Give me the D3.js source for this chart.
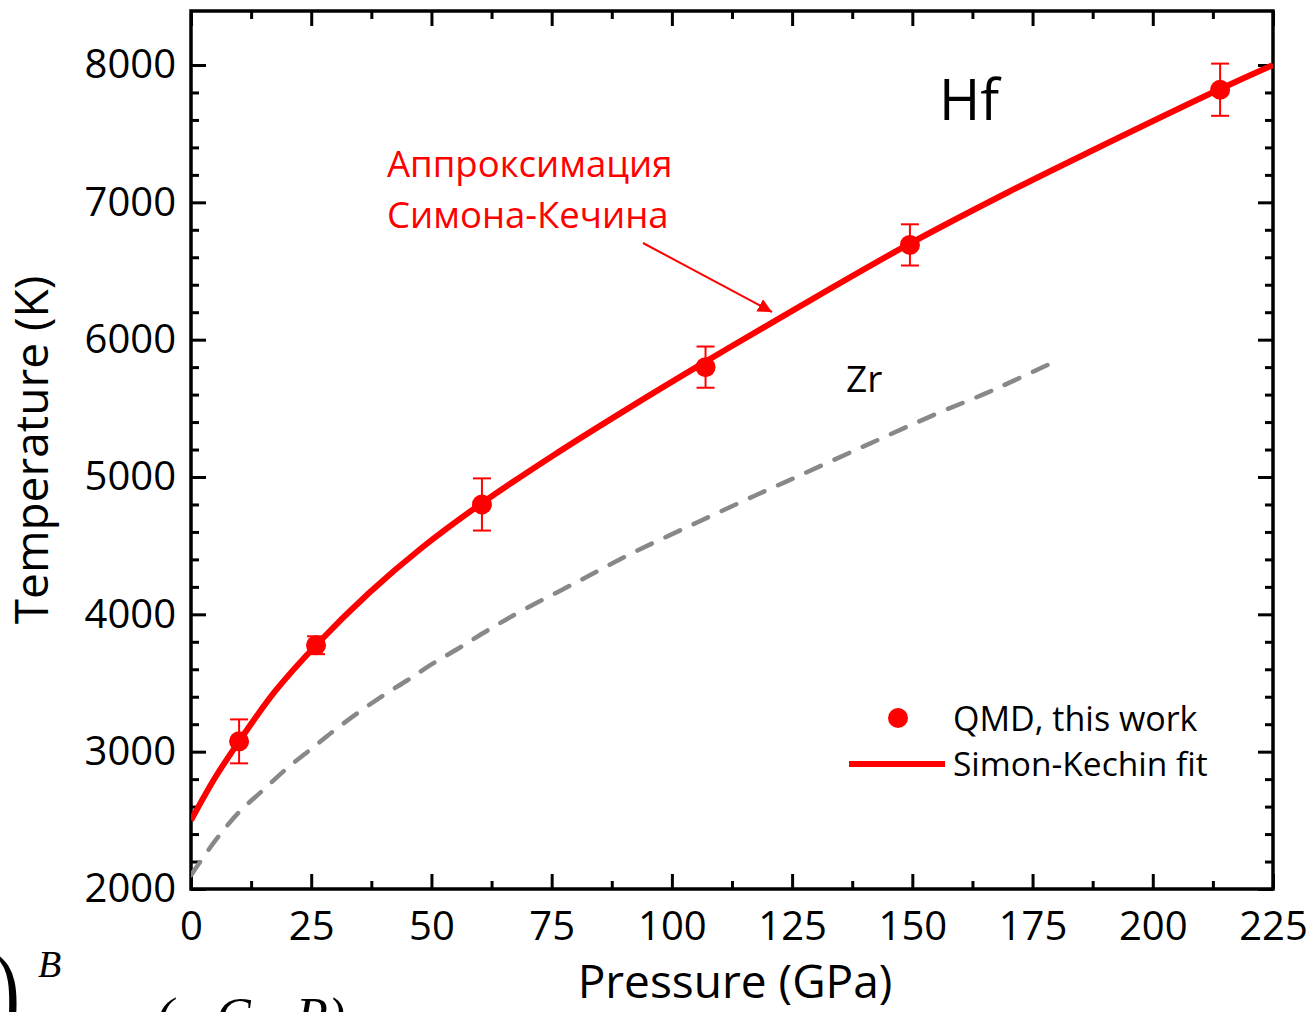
<!DOCTYPE html>
<html>
<head>
<meta charset="utf-8">
<script src="https://cdn.jsdelivr.net/npm/d3@7"></script>
<style>
  html, body { margin: 0; padding: 0; background: #fff; }
  svg { display: block; }
  text { font-family: "Open Sans", "Noto Sans", sans-serif; }
</style>
</head>
<body>
<svg id="chart" width="1314" height="1012"></svg>
<script>
// QMD melting points of Hf (GPa, K) with error bars
const qmdPressure = [10, 26, 60.5, 107, 149.5, 214];
const qmdTemp     = [3075, 3775, 4800, 5800, 6690, 7820];
const qmdError    = [160, 65, 190, 150, 150, 190];

// Simon-Kechin fit curve for Hf
const fitPressure = [0, 5, 10, 17.5, 26, 37, 48, 60.5, 75, 90, 107, 125, 149, 170, 187, 214, 225];
const fitTemp     = [2500, 2810, 3075, 3440, 3775, 4155, 4485, 4810, 5150, 5480, 5840, 6210, 6690, 7075, 7370, 7825, 8000];

// Zr melting curve (dashed)
const zrPressure = [0, 5, 10, 15, 20, 25, 30, 35, 40, 45, 50, 56, 62, 69, 80, 92, 105, 117, 124, 140, 155, 165, 171, 179];
const zrTemp     = [2100, 2350, 2560, 2720, 2880, 3020, 3160, 3290, 3410, 3520, 3635, 3760, 3890, 4030, 4230, 4450, 4665, 4860, 4970, 5225, 5460, 5605, 5700, 5830];

// Axis ticks
const xMajorTicks = [0, 25, 50, 75, 100, 125, 150, 175, 200, 225];
const xMinorTicks = [12.5, 37.5, 62.5, 87.5, 112.5, 137.5, 162.5, 187.5, 212.5];
const yMajorTicks = [2000, 3000, 4000, 5000, 6000, 7000, 8000];
const yMinorTicks = d3.range(2200, 8000, 200).filter(v => v % 1000 !== 0);

const svg = d3.select("#chart");
const plotLeft = 191, plotRight = 1273, plotTop = 11, plotBottom = 889;

const x = d3.scaleLinear().domain([0, 225]).range([plotLeft, plotRight]);
const y = d3.scaleLinear().domain([2000, 8000]).range([plotBottom, 65]);

const RED = "#ff0000";

const defs = svg.append("defs");
// clip region for curves
defs.append("clipPath").attr("id", "plotClip")
  .append("rect").attr("x", plotLeft).attr("y", plotTop)
  .attr("width", plotRight - plotLeft).attr("height", plotBottom - plotTop);

// ---- axes (ticks point inward on all four sides) ----
function styleAxis(g) {
  g.select(".domain").remove();
  g.selectAll(".tick line").attr("stroke", "#000").attr("stroke-width", 3);
  g.selectAll(".tick text").attr("fill", "#000")
    .style("font-family", '"Open Sans", sans-serif').style("font-size", "40px");
}
function addAxis(axis, tx, ty) {
  const g = svg.append("g").attr("transform", `translate(${tx},${ty})`).call(axis);
  styleAxis(g);
  return g;
}

addAxis(d3.axisBottom(x).tickValues(xMajorTicks).tickFormat(d3.format("d"))
  .tickSizeInner(-15).tickSizeOuter(0).tickPadding(23), 0, plotBottom);
addAxis(d3.axisBottom(x).tickValues(xMinorTicks).tickFormat("")
  .tickSizeInner(-8).tickSizeOuter(0), 0, plotBottom);
addAxis(d3.axisTop(x).tickValues(xMajorTicks).tickFormat("")
  .tickSizeInner(-15).tickSizeOuter(0), 0, plotTop);
addAxis(d3.axisTop(x).tickValues(xMinorTicks).tickFormat("")
  .tickSizeInner(-8).tickSizeOuter(0), 0, plotTop);
addAxis(d3.axisLeft(y).tickValues(yMajorTicks).tickFormat(d3.format("d"))
  .tickSizeInner(-15).tickSizeOuter(0).tickPadding(15), plotLeft, 0);
addAxis(d3.axisLeft(y).tickValues(yMinorTicks).tickFormat("")
  .tickSizeInner(-8).tickSizeOuter(0), plotLeft, 0);
addAxis(d3.axisRight(y).tickValues(yMajorTicks).tickFormat("")
  .tickSizeInner(-15).tickSizeOuter(0), plotRight, 0);
addAxis(d3.axisRight(y).tickValues(yMinorTicks).tickFormat("")
  .tickSizeInner(-8).tickSizeOuter(0), plotRight, 0);

// frame
svg.append("rect").attr("x", plotLeft).attr("y", plotTop)
  .attr("width", plotRight - plotLeft).attr("height", plotBottom - plotTop)
  .attr("fill", "none").attr("stroke", "#000").attr("stroke-width", 3.5);

// ---- curves ----
const line = d3.line().x(d => x(d[0])).y(d => y(d[1])).curve(d3.curveCatmullRom.alpha(0.5));

svg.append("path")
  .datum(zrPressure.map((p, i) => [p, zrTemp[i]]))
  .attr("clip-path", "url(#plotClip)")
  .attr("d", line)
  .attr("fill", "none").attr("stroke", "#888888").attr("stroke-width", 4.5)
  .attr("stroke-dasharray", "16,15").attr("stroke-linecap", "round");

svg.append("path")
  .datum(fitPressure.map((p, i) => [p, fitTemp[i]]))
  .attr("clip-path", "url(#plotClip)")
  .attr("d", line)
  .attr("fill", "none").attr("stroke", RED).attr("stroke-width", 6);

// ---- QMD points with error bars ----
const pts = qmdPressure.map((p, i) => ({ p, t: qmdTemp[i], e: qmdError[i] }));
const eb = svg.append("g").attr("stroke", RED).attr("stroke-width", 2);
pts.forEach(d => {
  const cx = x(d.p), y1 = y(d.t + d.e), y2 = y(d.t - d.e);
  eb.append("line").attr("x1", cx).attr("x2", cx).attr("y1", y1).attr("y2", y2);
  eb.append("line").attr("x1", cx - 9).attr("x2", cx + 9).attr("y1", y1).attr("y2", y1);
  eb.append("line").attr("x1", cx - 9).attr("x2", cx + 9).attr("y1", y2).attr("y2", y2);
});
svg.append("g").selectAll("circle").data(pts).join("circle")
  .attr("cx", d => x(d.p)).attr("cy", d => y(d.t)).attr("r", 10).attr("fill", RED);

// ---- legend ----
svg.append("circle").attr("cx", 898).attr("cy", 718).attr("r", 10).attr("fill", RED);
svg.append("text").attr("x", 953).attr("y", 731).attr("font-size", 34).attr("fill", "#000").text("QMD, this work");
svg.append("line").attr("x1", 849).attr("x2", 945).attr("y1", 764).attr("y2", 764)
  .attr("stroke", RED).attr("stroke-width", 6);
svg.append("text").attr("x", 953).attr("y", 776).attr("font-size", 33.5).attr("fill", "#000").text("Simon-Kechin fit");

// ---- annotations ----
svg.append("text").attr("x", 939).attr("y", 120).attr("font-size", 56).attr("fill", "#000").text("Hf");
svg.append("text").attr("x", 846).attr("y", 392).attr("font-size", 37).attr("fill", "#000").text("Zr");
svg.append("text").attr("x", 387).attr("y", 177).attr("font-size", 36.5).attr("fill", RED).text("Аппроксимация");
svg.append("text").attr("x", 387).attr("y", 228).attr("font-size", 36.5).attr("fill", RED).text("Симона-Кечина");

defs.append("marker").attr("id", "arrowHead")
  .attr("viewBox", "0 0 10 10").attr("refX", 10).attr("refY", 5)
  .attr("markerWidth", 7).attr("markerHeight", 7).attr("markerUnits", "strokeWidth")
  .attr("orient", "auto")
  .append("path").attr("d", "M0,0 L10,5 L0,10 Z").attr("fill", RED);
svg.append("line").attr("x1", 643).attr("y1", 243).attr("x2", 772).attr("y2", 312)
  .attr("stroke", RED).attr("stroke-width", 2).attr("marker-end", "url(#arrowHead)");

// ---- axis titles ----
svg.append("text").attr("transform", "translate(48,450) rotate(-90)")
  .attr("text-anchor", "middle").attr("font-size", 46).attr("fill", "#000").text("Temperature (K)");
svg.append("text").attr("x", 735).attr("y", 998)
  .attr("text-anchor", "middle").attr("font-size", 46).attr("fill", "#000").text("Pressure (GPa)");

// ---- formula fragments along the lower-left edge ----
const serifFont = '"Liberation Serif", serif';
svg.append("text").attr("transform", "translate(-6,1030) scale(1,1.4)").attr("font-size", 78)
  .style("font-family", serifFont).attr("fill", "#000").text(")");
svg.append("text").attr("x", 38).attr("y", 977).attr("font-size", 38).attr("font-style", "italic")
  .style("font-family", serifFont).attr("fill", "#000").text("B");
svg.append("text").attr("x", 156).attr("y", 1034).attr("font-size", 52).attr("font-style", "italic")
  .style("font-family", serifFont).attr("fill", "#000").text("(−");
svg.append("text").attr("x", 216).attr("y", 1034).attr("font-size", 52).attr("font-style", "italic")
  .style("font-family", serifFont).attr("fill", "#000").text("C");
svg.append("text").attr("x", 296).attr("y", 1034).attr("font-size", 52).attr("font-style", "italic")
  .style("font-family", serifFont).attr("fill", "#000").text("P)");
</script>
</body>
</html>
